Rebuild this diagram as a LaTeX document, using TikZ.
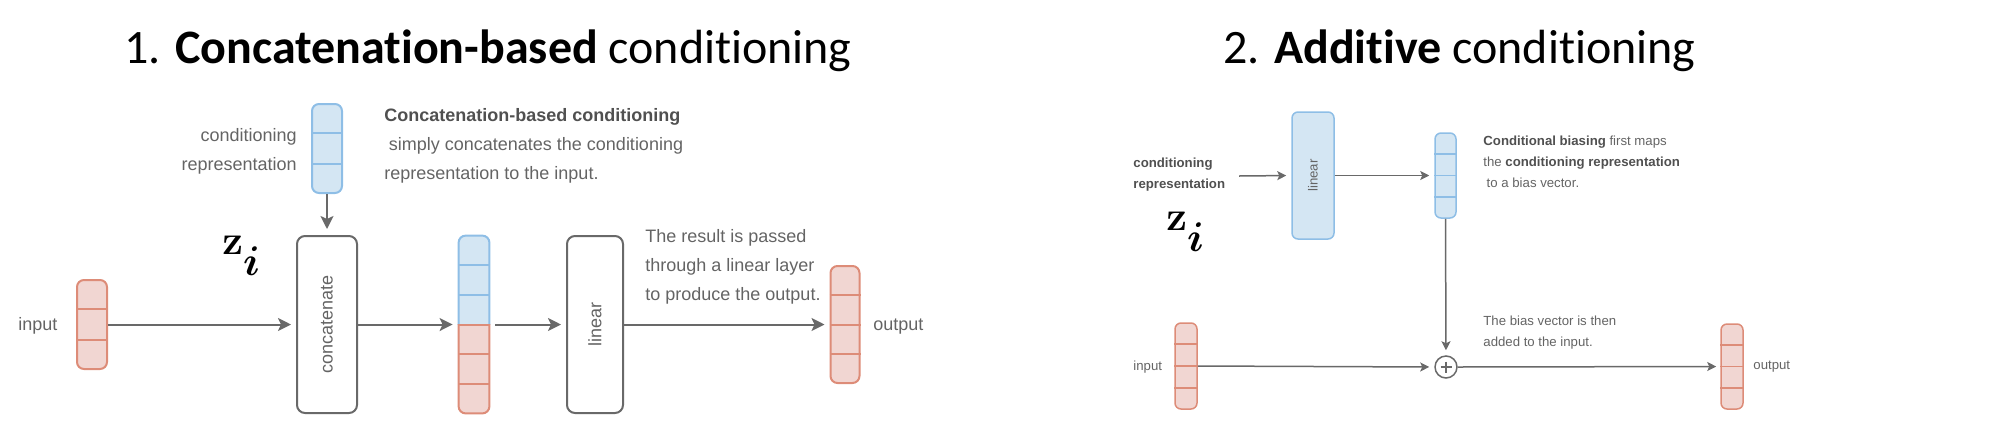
\documentclass[tikz,border=0pt]{standalone}
\usepackage{amsmath}
\usepackage[no-math]{fontspec}
\setmainfont{Liberation Sans}
\newfontfamily\titlefont[Ligatures=NoCommon]{Carlito}
\usetikzlibrary{calc,arrows.meta}
\definecolor{bfill}{RGB}{212,230,243}
\definecolor{bstroke}{RGB}{142,190,230}
\definecolor{rfill}{RGB}{241,214,210}
\definecolor{rstroke}{RGB}{221,140,120}
\definecolor{lgray}{RGB}{105,105,105}
\definecolor{tgray}{RGB}{100,100,100}
\definecolor{tdark}{RGB}{80,80,80}
\tikzset{
  conn/.style={draw=lgray, line width=1pt, -{Stealth[length=6.5pt,width=6.5pt,inset=1.5pt]}},
  connR/.style={draw=lgray, line width=0.75pt, -{Stealth[length=4.5pt,width=4.5pt,inset=1pt]}},
  bluevec/.style={draw=bstroke, fill=bfill, line width=1pt, rounded corners=3.5pt, inner sep=0pt},
  redvec/.style={draw=rstroke, fill=rfill, line width=1pt, rounded corners=3.5pt, inner sep=0pt},
  bluevecR/.style={bluevec, line width=0.75pt, rounded corners=3pt},
  redvecR/.style={redvec, line width=0.75pt, rounded corners=3pt},
  opbox/.style={draw=lgray, line width=1pt, rounded corners=4pt, inner sep=0pt},
  lblL/.style={text=tgray, inner sep=0pt, font=\fontsize{9}{14.5}\selectfont},
  lblR/.style={text=tgray, inner sep=0pt, font=\fontsize{6.6}{10.5}\selectfont},
  titletext/.style={inner sep=0pt, font=\titlefont\fontsize{24}{28}\selectfont},
  zlabel/.style={inner sep=0pt, anchor=base west, font=\fontsize{21}{24}\selectfont},
}
\newcommand{\zsym}{$\mathbf{z}$\raisebox{-10.5pt}{\fontsize{21}{22}\selectfont$\boldsymbol{i}$}}
\newcommand{\divs}[3]{\foreach \f in {#2}{\draw[#3] ($(#1.north west)!\f!(#1.south west)$) -- ($(#1.north east)!\f!(#1.south east)$);}}
\begin{document}
\begin{tikzpicture}[x=0.5pt,y=-0.5pt]
\useasboundingbox (0,0) rectangle (2008,446);
% titles
\node[titletext, anchor=base west] (t1) at (124,63) {1. \textbf{Concatenation-based} conditioning};
\node[titletext, anchor=base west] (t2) at (1223,63) {2. \textbf{Additive} conditioning};

% ---------- left panel ----------
\node[bluevec, minimum width=15pt, minimum height=44.5pt] (cv) at (327,148.5) {};
\divs{cv}{0.3333,0.6667}{bstroke, line width=1pt}
\node[opbox, minimum width=30pt, minimum height=88.5pt] (cat) at (327,324.5) {};
\node[lblL, rotate=90] (catlbl) at (cat.center) {concatenate};
\node[redvec, minimum width=15pt, minimum height=44.5pt] (inL) at (92,324.5) {};
\divs{inL}{0.3333,0.6667}{rstroke, line width=1pt}
\node[minimum width=15pt, minimum height=88.5pt, inner sep=0pt] (comb) at (474,324.5) {};
\begin{scope}
  \clip (comb.north west) ++(-5,-5) rectangle ($(comb.east)+(5,0)$);
  \draw[bluevec] (comb.north west) rectangle (comb.south east);
\end{scope}
\begin{scope}
  \clip (comb.west) ++(-5,0) rectangle ($(comb.south east)+(5,5)$);
  \draw[redvec] (comb.north west) rectangle (comb.south east);
\end{scope}
\divs{comb}{0.1667,0.3333}{bstroke, line width=1pt}
\divs{comb}{0.5,0.6667,0.8333}{rstroke, line width=1pt}
\node[opbox, minimum width=28pt, minimum height=88.5pt] (linL) at (595,324.5) {};
\node[lblL, rotate=90] (linLlbl) at (linL.center) {linear};
\node[redvec, minimum width=14.5pt, minimum height=58.5pt] (outL) at (845,324.5) {};
\divs{outL}{0.25,0.5,0.75}{rstroke, line width=1pt}

\draw[conn, shorten >=3pt] (cv.south) -- (cat.north);
\draw[conn, shorten >=2.5pt] (inL.east) -- (cat.west);
\draw[conn, shorten >=3pt] (cat.east) -- (comb.west);
\draw[conn, shorten <=3pt, shorten >=2.5pt] (comb.east) -- (linL.west);
\draw[conn, shorten >=2.5pt] (linL.east) -- (outL.west);

\node[lblL, anchor=east, align=right] (condL) at (297,151) {conditioning\\representation};
\node[lblL, anchor=west] (inLlbl) at (18,326) {input};
\node[lblL, anchor=west] (outLlbl) at (873,327) {output};
\node[zlabel] (zL) at (222,254) {\zsym};
\node[lblL, anchor=west, align=left] (descL) at (384,146) {\textcolor{tdark}{\textbf{Concatenation-based conditioning}}\\\hspace{0.25em}simply concatenates the conditioning\\representation to the input.};
\node[lblL, anchor=west, align=left] (resL) at (645,266.5) {The result is passed\\through a linear layer\\to produce the output.};

% ---------- right panel ----------
\node[bluevecR, minimum width=21pt, minimum height=63.5pt] (linR) at (1313,175.5) {};
\node[lblR, rotate=90] (linRlbl) at (linR.center) {linear};
\node[bluevecR, minimum width=10.5pt, minimum height=42.5pt] (bias) at (1445.5,175.5) {};
\divs{bias}{0.25,0.5,0.75}{bstroke, line width=0.75pt}
\node[circle, draw=lgray, line width=0.75pt, minimum size=11pt, inner sep=0pt] (plus) at (1446,367) {};
\draw[lgray, line width=0.75pt] ($(plus.center)+(-5.5,0)$) -- ($(plus.center)+(5.5,0)$);
\draw[lgray, line width=0.75pt] ($(plus.center)+(0,-5.5)$) -- ($(plus.center)+(0,5.5)$);
\node[redvecR, minimum width=11pt, minimum height=43pt] (inR) at (1186,366) {};
\divs{inR}{0.25,0.5,0.75}{rstroke, line width=0.75pt}
\node[redvecR, minimum width=11pt, minimum height=42.5pt] (outR) at (1732,366.5) {};
\divs{outR}{0.25,0.5,0.75}{rstroke, line width=0.75pt}
\coordinate (cR) at (1239,176);

\draw[connR, shorten >=2.5pt] (cR) -- (linR.west);
\draw[connR, shorten >=2.5pt] (linR.east) -- (bias.west);
\draw[connR, shorten >=2.5pt] (bias.south) -- (plus.north);
\draw[connR, shorten >=2.5pt] (inR.east) -- (plus.west);
\draw[connR, shorten >=2pt] (plus.east) -- (outR.west);

\node[lblR, anchor=west, align=left, text=tdark] (condR) at (1133,174.5) {\textbf{conditioning}\\\textbf{representation}};
\node[zlabel] (zR) at (1166,230) {\zsym};
\node[lblR, anchor=west] (inRlbl) at (1133,367) {input};
\node[lblR, anchor=west] (outRlbl) at (1753,367) {output};
\node[lblR, anchor=west, align=left] (descR) at (1483,163) {\textcolor{tdark}{\textbf{Conditional biasing}} first maps\\the \textcolor{tdark}{\textbf{conditioning representation}}\\\hspace{0.25em}to a bias vector.\vphantom{p}};
\node[lblR, anchor=west, align=left] (addR) at (1483,332.5) {The bias vector is then\\added to the input.};
\end{tikzpicture}
\end{document}
